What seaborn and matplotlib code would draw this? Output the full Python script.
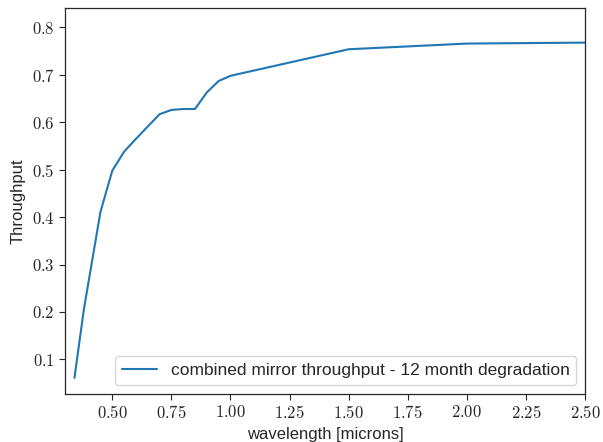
import matplotlib
matplotlib.use("Agg")
import matplotlib.pyplot as plt
import seaborn as sns
import pandas as pd
from matplotlib.ticker import FuncFormatter

wavelength = [0.34, 0.38, 0.45, 0.50, 0.55, 0.60, 0.70, 0.75, 0.80, 0.85, 0.90, 0.95, 1.00, 1.50, 2.00, 2.50]
throughput = [0.061, 0.206, 0.411, 0.498, 0.538, 0.565, 0.617, 0.626, 0.628, 0.628, 0.663, 0.687, 0.698, 0.754, 0.766, 0.768]
series_label = "combined mirror throughput - 12 month degradation"

sns.set_style("ticks")
plt.rcParams['font.family'] = ['Liberation Sans', 'DejaVu Sans']
plt.rcParams['mathtext.fontset'] = 'cm'

df = pd.DataFrame({"wavelength": wavelength, "throughput": throughput, "series": series_label})

fig = plt.figure(figsize=(6.03, 4.42), dpi=100)
ax = fig.add_axes([65/603, 1 - 394/442, 520/603, 386/442])
sns.lineplot(data=df, x="wavelength", y="throughput", hue="series", palette=["#1f77b4"],
             ax=ax, linewidth=1.5, sort=False)
ax.set_xlim(0.3, 2.5)
ax.set_ylim(0.027, 0.841)
ax.set_xticks([0.5, 0.75, 1.0, 1.25, 1.5, 1.75, 2.0, 2.25, 2.5])
ax.set_yticks([0.1, 0.2, 0.3, 0.4, 0.5, 0.6, 0.7, 0.8])
ax.xaxis.set_major_formatter(FuncFormatter(lambda v, p: f"${v:.2f}$"))
ax.yaxis.set_major_formatter(FuncFormatter(lambda v, p: f"${v:.1f}$"))
ax.tick_params(labelsize=12, length=4)
ax.set_xlabel("wavelength [microns]", fontsize=12, labelpad=4)
ax.set_ylabel("Throughput", fontsize=12)
for s in ax.spines.values():
    s.set_linewidth(0.9)
leg = ax.legend(loc="lower right", fontsize=12.5, frameon=True, title=None)
fig.savefig("out.png", dpi=100)
